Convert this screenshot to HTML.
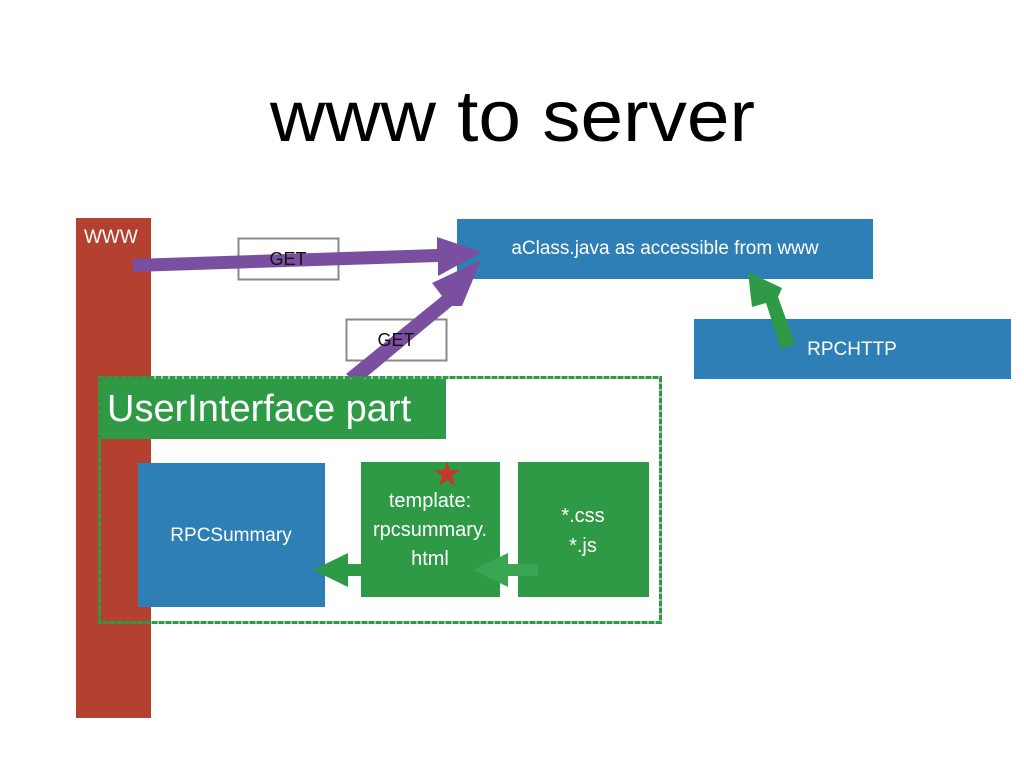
<!DOCTYPE html>
<html><head><meta charset="utf-8"><style>body{margin:0;background:#fff}svg{display:block}</style></head>
<body>
<svg width="1024" height="768" viewBox="0 0 1024 768" xmlns="http://www.w3.org/2000/svg" font-family="Liberation Sans, DejaVu Sans, sans-serif">
<text x="270" y="141" font-size="72" textLength="485" lengthAdjust="spacingAndGlyphs" fill="#000">www to server</text>
<rect x="76" y="218" width="75" height="500" fill="#b4402f"/>
<text x="84" y="243" font-size="19" fill="#fff">WWW</text>
<rect x="457" y="219" width="416" height="60" fill="#2f7fb7"/>
<text x="665" y="254" font-size="19" fill="#fff" text-anchor="middle">aClass.java as accessible from www</text>
<rect x="694" y="319" width="317" height="60" fill="#2f7fb7"/>
<text x="852" y="355" font-size="19" fill="#fff" text-anchor="middle">RPCHTTP</text>
<rect x="238.5" y="238.5" width="100" height="41" fill="none" stroke="#888" stroke-width="2"/>
<rect x="346.5" y="319.5" width="100" height="41" fill="none" stroke="#888" stroke-width="2"/>
<polygon points="133,259 437,249 437,237 482,252 438,276 438,262 133,272" fill="#7b4fa0"/>
<polygon points="346,374 442,296 432,283 481,260 462,306 452,306 358,384" fill="#7b4fa0"/>
<text x="288" y="265" font-size="18" fill="#111" text-anchor="middle">GET</text>
<text x="396" y="346" font-size="18" fill="#111" text-anchor="middle">GET</text>
<polygon points="781,349 766,303 752,307 748,272 782,288 778,297 795,344" fill="#2e9a45"/>
<rect x="99.5" y="377.5" width="561" height="245" fill="none" stroke="#2e9a45" stroke-width="3" stroke-dasharray="6,1"/>
<rect x="101" y="379" width="345" height="60" fill="#2e9a45"/>
<text x="107" y="421" font-size="38" fill="#fff">UserInterface part</text>
<rect x="138" y="463" width="187" height="144" fill="#2f7fb7"/>
<text x="231" y="541" font-size="19" fill="#fff" text-anchor="middle">RPCSummary</text>
<rect x="361" y="462" width="139" height="135" fill="#2e9a45"/>
<rect x="518" y="462" width="131" height="135" fill="#2e9a45"/>
<text x="430" y="507" font-size="20" fill="#fff" text-anchor="middle">template:</text>
<text x="430" y="536" font-size="20" fill="#fff" text-anchor="middle">rpcsummary.</text>
<text x="430" y="565" font-size="20" fill="#fff" text-anchor="middle">html</text>
<text x="583" y="522" font-size="20" fill="#fff" text-anchor="middle">*.css</text>
<text x="583" y="552" font-size="20" fill="#fff" text-anchor="middle">*.js</text>
<polygon points="382,564 348,564 348,553 313,570 348,587 348,576 382,576" fill="#2e9a45"/>
<polygon points="538,564 508,564 508,553 473,570 508,587 508,576 538,576" fill="#3aa552"/>
<polygon points="447,461 450,470 460,470 452,476 455,486 447,480 439,486 442,476 434,470 444,470" fill="#c0392b"/>
</svg>
</body></html>
